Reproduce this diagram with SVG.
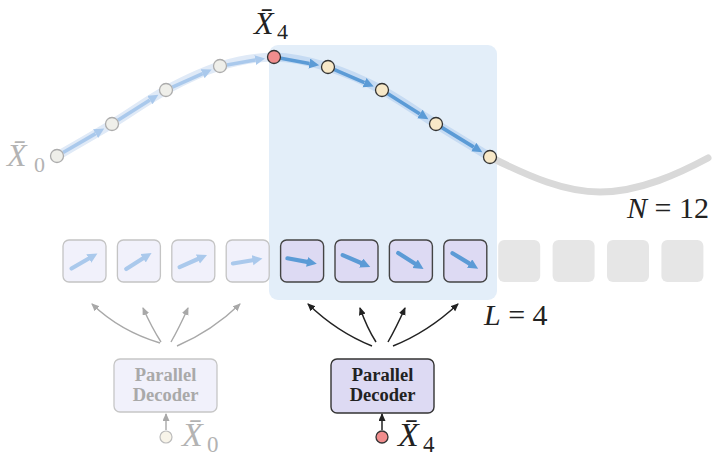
<svg xmlns="http://www.w3.org/2000/svg" width="718" height="465" viewBox="0 0 718 465">
<defs>
<marker id="hdBlue" markerUnits="userSpaceOnUse" markerWidth="11" markerHeight="11" refX="0" refY="5" orient="auto"><path d="M0,0 L10,5 L0,10 z" fill="#5b9bd6"/></marker>
<marker id="hdLight" markerUnits="userSpaceOnUse" markerWidth="11" markerHeight="11" refX="0" refY="5" orient="auto"><path d="M0,0 L10,5 L0,10 z" fill="#aac9ec"/></marker>
<marker id="hdDark" markerUnits="userSpaceOnUse" markerWidth="9" markerHeight="8" refX="7" refY="3.5" orient="auto"><path d="M0,0 L8,3.5 L0,7 z" fill="#222"/></marker>
<marker id="hdGray" markerUnits="userSpaceOnUse" markerWidth="9" markerHeight="8" refX="7" refY="3.5" orient="auto"><path d="M0,0 L8,3.5 L0,7 z" fill="#a8a8a8"/></marker>
</defs>
<style>
.math{font-family:"Liberation Serif","DejaVu Serif",serif;}
.it{font-style:italic;}
.arrB{stroke:#5b9bd6;stroke-width:3.6;fill:none;marker-end:url(#hdBlue);}
.arrL{stroke:#aac9ec;stroke-width:3.6;fill:none;marker-end:url(#hdLight);}
.barrB{stroke:#5b9bd6;stroke-width:4.2;stroke-linecap:round;fill:none;marker-end:url(#hdBlue);}
.barrL{stroke:#aac9ec;stroke-width:4.2;stroke-linecap:round;fill:none;marker-end:url(#hdLight);}
.nodeG{fill:#efefea;stroke:#acacac;stroke-width:1.3;}
.nodeC{fill:#f7e8c8;stroke:#333;stroke-width:1.3;}
.nodeR{fill:#f08d8d;stroke:#333;stroke-width:1.3;}
.boxL{fill:#f1f1fb;stroke:#c4c4c4;stroke-width:1.3;}
.boxD{fill:#dddaf3;stroke:#444;stroke-width:1.4;}
.boxG{fill:#e6e6e6;}
.fanG{stroke:#a8a8a8;stroke-width:1.4;fill:none;marker-end:url(#hdGray);}
.fanD{stroke:#222;stroke-width:1.5;fill:none;marker-end:url(#hdDark);}
.dec{font-family:"Liberation Serif","DejaVu Serif",serif;font-weight:bold;font-size:18.5px;text-anchor:middle;}
</style>

<rect id="highlight" x="269" y="45" width="228" height="255" rx="9" fill="#e3eef9"/>

<g id="trajectory">
<path d="M490,157 C530,177 565,192 600,192 C640,192 680,173 708,158" stroke="#d9d9d9" stroke-width="7" stroke-linecap="round" fill="none"/>
<path d="M57,156 C66.2,150.7 93.8,135 112,124 C130.2,113 148,99.7 166,90 C184,80.3 202,71.5 220,66 C238,60.5 256,57.2 274,57" stroke="#e0eaf7" stroke-width="9" stroke-linecap="round" fill="none"/>
<path d="M274,57 C292,57.2 310,61.5 328,67 C346,72.5 364,80.5 382,90 C400,99.5 418,112.8 436,124 C454,135.2 481,151.5 490,157" stroke="#c6dbf3" stroke-width="9" stroke-linecap="round" fill="none"/>
<line class="arrL" x1="63.1" y1="152.5" x2="95.6" y2="133.6"/>
<line class="arrL" x1="117.9" y1="120.3" x2="149.9" y2="100.1"/>
<line class="arrL" x1="172.4" y1="87.2" x2="202.6" y2="73.7"/>
<line class="arrL" x1="226.9" y1="64.9" x2="255.2" y2="60.1"/>
<line class="arrB" x1="280.9" y1="58.3" x2="309.3" y2="63.5"/>
<line class="arrB" x1="334.4" y1="69.7" x2="364.5" y2="82.6"/>
<line class="arrB" x1="387.9" y1="93.7" x2="419.9" y2="113.9"/>
<line class="arrB" x1="442" y1="127.6" x2="473.8" y2="147.1"/>
</g>

<g id="node-x0"><circle class="nodeG" cx="57" cy="156" r="6.5"/></g>
<g id="node-x1"><circle class="nodeG" cx="112" cy="124" r="6.5"/></g>
<g id="node-x2"><circle class="nodeG" cx="166" cy="90" r="6.5"/></g>
<g id="node-x3"><circle class="nodeG" cx="220" cy="66" r="6.5"/></g>
<g id="node-x4"><circle class="nodeR" cx="274" cy="57" r="6.5"/></g>
<g id="node-x5"><circle class="nodeC" cx="328" cy="67" r="6.5"/></g>
<g id="node-x6"><circle class="nodeC" cx="382" cy="90" r="6.5"/></g>
<g id="node-x7"><circle class="nodeC" cx="436" cy="124" r="6.5"/></g>
<g id="node-x8"><circle class="nodeC" cx="490" cy="157" r="6.5"/></g>

<g id="box-1"><rect class="boxL" x="63" y="240" width="43" height="42" rx="6"/><line class="barrL" x1="71.5" y1="268.5" x2="88.8" y2="258.5"/></g>
<g id="box-2"><rect class="boxL" x="117.4" y="240" width="43" height="42" rx="6"/><line class="barrL" x1="126.2" y1="269" x2="143.1" y2="258.3"/></g>
<g id="box-3"><rect class="boxL" x="171.8" y="240" width="43" height="42" rx="6"/><line class="barrL" x1="179.6" y1="267.1" x2="197.9" y2="259"/></g>
<g id="box-4"><rect class="boxL" x="226.2" y="240" width="43" height="42" rx="6"/><line class="barrL" x1="232.9" y1="263.5" x2="252.6" y2="260.2"/></g>
<g id="box-5"><rect class="boxD" x="280.6" y="240" width="43" height="42" rx="6"/><line class="barrB" x1="287.4" y1="258.3" x2="307" y2="261.9"/></g>
<g id="box-6"><rect class="boxD" x="335" y="240" width="43" height="42" rx="6"/><line class="barrB" x1="342.7" y1="255.1" x2="361.1" y2="263"/></g>
<g id="box-7"><rect class="boxD" x="389.4" y="240" width="43" height="42" rx="6"/><line class="barrB" x1="398.2" y1="253" x2="415.1" y2="263.7"/></g>
<g id="box-8"><rect class="boxD" x="443.8" y="240" width="43" height="42" rx="6"/><line class="barrB" x1="452.5" y1="253.2" x2="469.6" y2="263.6"/></g>
<g id="box-9"><rect class="boxG" x="498.2" y="240" width="42" height="42" rx="6"/></g>
<g id="box-10"><rect class="boxG" x="552.6" y="240" width="42" height="42" rx="6"/></g>
<g id="box-11"><rect class="boxG" x="607" y="240" width="42" height="42" rx="6"/></g>
<g id="box-12"><rect class="boxG" x="661.4" y="240" width="42" height="42" rx="6"/></g>

<g id="decoder-0">
<rect x="114" y="359" width="103" height="53" rx="6" fill="#f1f1fb" stroke="#c6c6c6" stroke-width="1.3"/>
<text class="dec" x="165.5" y="381" fill="#a9a9a9">Parallel</text>
<text class="dec" x="165.5" y="401" fill="#a9a9a9">Decoder</text>
</g>
<g id="decoder-4">
<rect x="331" y="359" width="103" height="54" rx="6" fill="#dddaf3" stroke="#333" stroke-width="1.4"/>
<text class="dec" x="382.5" y="381" fill="#222">Parallel</text>
<text class="dec" x="382.5" y="401" fill="#222">Decoder</text>
</g>
<g id="input-x0"><circle cx="166" cy="437" r="6" fill="#f8f4e9" stroke="#bcbcbc" stroke-width="1.2"/></g>
<g id="input-x4"><circle cx="382" cy="437" r="6" fill="#f08d8d" stroke="#333" stroke-width="1.3"/></g>

<g id="connectors">
<path class="fanG" d="M160,343 Q120,331 92,304"/>
<path class="fanG" d="M161,342 Q152,328 143,308"/>
<path class="fanG" d="M171,342 Q179,328 188,308"/>
<path class="fanG" d="M177,346 Q212,331 240,304"/>
<path class="fanD" d="M372,346 Q337,332 308,304"/>
<path class="fanD" d="M376,342 Q367,328 360,308"/>
<path class="fanD" d="M388,342 Q396,328 405,308"/>
<path class="fanD" d="M393,346 Q428,332 458,304"/>
<line class="fanG" x1="166" y1="430" x2="166" y2="414"/>
<line class="fanD" x1="382" y1="430" x2="382" y2="414"/>
</g>

<g id="labels" class="math">
<text x="254" y="34" font-size="32" fill="#222"><tspan class="it">X̄</tspan><tspan x="277" y="39" font-size="22">4</tspan></text>
<text x="7" y="166" font-size="32" fill="#b3b3b3"><tspan class="it">X̄</tspan><tspan x="34" y="172" font-size="22">0</tspan></text>
<text x="182" y="446" font-size="34" fill="#b3b3b3"><tspan class="it">X̄</tspan><tspan x="207" y="452" font-size="23">0</tspan></text>
<text x="398" y="446" font-size="34" fill="#222"><tspan class="it">X̄</tspan><tspan x="423" y="452" font-size="23">4</tspan></text>
<text x="709" y="218" font-size="30" fill="#222" text-anchor="end"><tspan class="it">N</tspan> = 12</text>
<text x="484" y="325" font-size="30" fill="#222"><tspan class="it">L</tspan> = 4</text>
</g>
</svg>
